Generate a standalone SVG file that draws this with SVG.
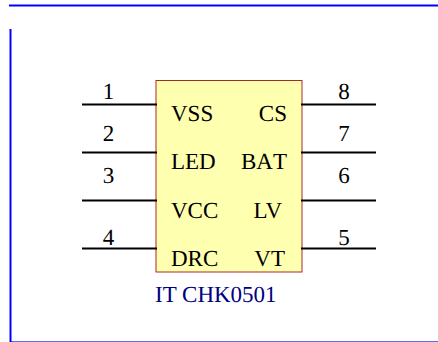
<svg xmlns="http://www.w3.org/2000/svg" width="438" height="342" viewBox="0 0 438 342">
<style>
text{font-family:"Liberation Serif","Times New Roman",serif;font-size:23px;fill:#000;text-rendering:geometricPrecision}
.n{text-anchor:middle}
.r{text-anchor:end}
.p{stroke:#000;stroke-width:2;fill:none}
.f{stroke:#00f;fill:none}
</style>
<g id="frame">
<path class="f" stroke-width="2" d="M9 5.500H438"/>
<path class="f" stroke-width="2" d="M10.500 29V342"/>
<path class="f" stroke-width="1" stroke-opacity="0.6" d="M10 341.500H438"/>
</g>
<g id="chip">
<rect x="156" y="80.500" width="146" height="191.500" fill="#ffffb0" stroke="#a52a2a" stroke-width="1"/>
<text x="171" y="121">VSS</text>
<text x="171" y="169">LED</text>
<text x="171" y="218">VCC</text>
<text x="171" y="266">DRC</text>
<text class="r" x="287" y="121">CS</text>
<text class="r" x="287" y="169" style="font-kerning:none">BAT</text>
<text class="r" x="282" y="218">LV</text>
<text class="r" x="285" y="266">VT</text>
</g>
<g id="connectors">
<path class="p" d="M82 104.500H157M82 152.500H157M82 200.500H157M82 248.500H157M301 104.500H376M301 152.500H376M301 200.500H376M301 248.500H376"/>
</g>
<g id="pin-labels">
<text class="n" x="108.500" y="99">1</text>
<text class="n" x="108.500" y="141">2</text>
<text class="n" x="108.500" y="183">3</text>
<text class="n" x="108.500" y="245">4</text>
<text class="n" x="344" y="245">5</text>
<text class="n" x="344" y="183">6</text>
<text class="n" x="344" y="141">7</text>
<text class="n" x="344" y="99">8</text>
</g>
<g id="caption">
<text x="155" y="302" style="fill:#000080">IT CHK0501</text>
</g>
</svg>
